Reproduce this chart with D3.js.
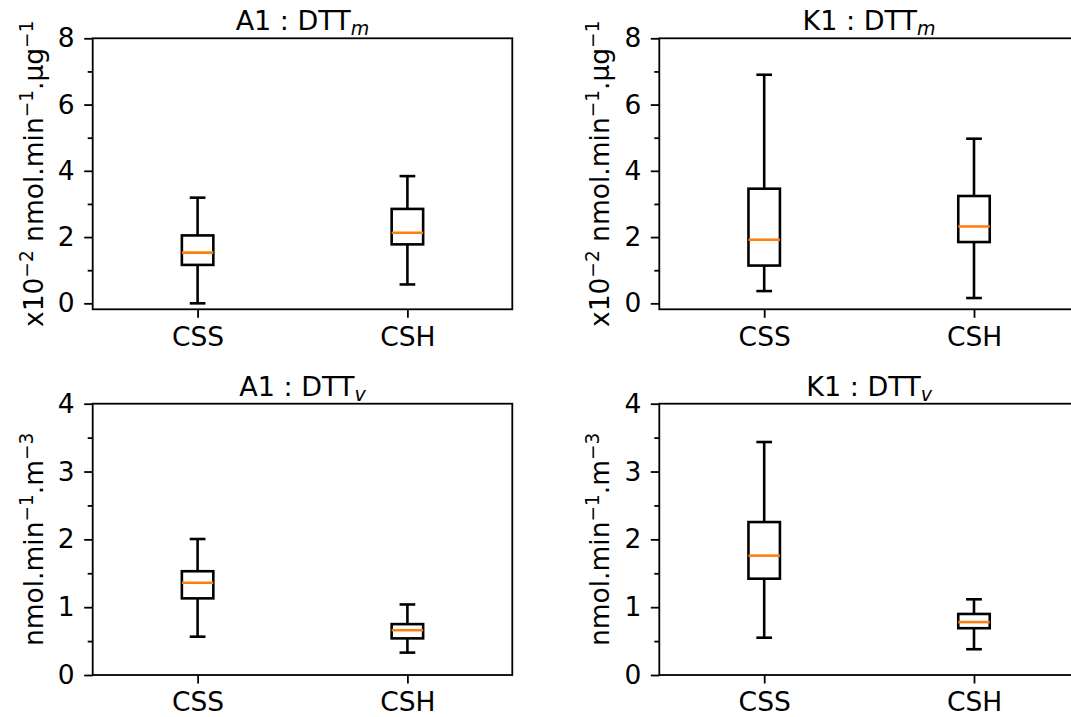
<!DOCTYPE html>
<html><head><meta charset="utf-8">
<script src="https://cdn.jsdelivr.net/npm/d3@7"></script>
<style>
body{margin:0;background:#fff}
svg{display:block}
text{font-family:"DejaVu Sans",sans-serif;fill:#000}
</style>
</head><body>
<svg id="c" width="1071" height="717"></svg>
<script>
// ---------- data ----------
const categories = ["CSS", "CSH"];
// box stats: [lower whisker, Q1, median, Q3, upper whisker]
const a1DttmCSS = [0.00, 1.16, 1.53, 2.05, 3.19];
const a1DttmCSH = [0.57, 1.78, 2.13, 2.85, 3.84];
const k1DttmCSS = [0.37, 1.14, 1.92, 3.46, 6.90];
const k1DttmCSH = [0.16, 1.85, 2.32, 3.24, 4.97];
const a1DttvCSS = [0.565, 1.13, 1.36, 1.53, 2.005];
const a1DttvCSH = [0.33, 0.54, 0.66, 0.75, 1.04];
const k1DttvCSS = [0.55, 1.42, 1.76, 2.255, 3.435];
const k1DttvCSH = [0.38, 0.69, 0.78, 0.90, 1.116];
const titleMain = ["A1 : DTT", "K1 : DTT", "A1 : DTT", "K1 : DTT"];
const titleSub = ["m", "m", "v", "v"];
const massTicks = [0, 2, 4, 6, 8];
const massMinor = [1, 3, 5, 7];
const volTicks = [0, 1, 2, 3, 4];
const volMinor = [0.5, 1.5, 2.5, 3.5];
const massDomain = [-0.18, 8];
const volDomain = [0, 4];

// ---------- layout ----------
const svg = d3.select("#c");
const cols = [[92.7, 512.3], [659.3, 1078.9]];
const rows = [[38.3, 309.3], [403.7, 675]];
const boxW = 0.15, capW = 0.075;
const LW = 2.6, SPW = 1.8;
const FS = 26.5;

const panels = [
  {c:0, r:0, data:[a1DttmCSS, a1DttmCSH], ticks:massTicks, minor:massMinor, dom:massDomain, label:"mass", t:0},
  {c:1, r:0, data:[k1DttmCSS, k1DttmCSH], ticks:massTicks, minor:massMinor, dom:massDomain, label:"mass", t:1},
  {c:0, r:1, data:[a1DttvCSS, a1DttvCSH], ticks:volTicks, minor:volMinor, dom:volDomain, label:"vol", t:2},
  {c:1, r:1, data:[k1DttvCSS, k1DttvCSH], ticks:volTicks, minor:volMinor, dom:volDomain, label:"vol", t:3}
];

panels.forEach(p => {
  const [x0, x1] = cols[p.c], [y0, y1] = rows[p.r];
  const x = d3.scaleLinear().domain([0.5, 2.5]).range([x0, x1]);
  const y = d3.scaleLinear().domain(p.dom).range([y1, y0]);
  const g = svg.append("g");

  // boxes
  p.data.forEach((s, i) => {
    const pos = i + 1;
    const [lo, q1, med, q3, hi] = s;
    const bg = g.append("g").attr("stroke", "#000").attr("stroke-width", LW).attr("fill", "none");
    bg.append("line").attr("x1", x(pos)).attr("x2", x(pos)).attr("y1", y(q1)).attr("y2", y(lo));
    bg.append("line").attr("x1", x(pos)).attr("x2", x(pos)).attr("y1", y(q3)).attr("y2", y(hi));
    bg.append("line").attr("x1", x(pos - capW/2)).attr("x2", x(pos + capW/2)).attr("y1", y(lo)).attr("y2", y(lo));
    bg.append("line").attr("x1", x(pos - capW/2)).attr("x2", x(pos + capW/2)).attr("y1", y(hi)).attr("y2", y(hi));
    bg.append("rect").attr("x", x(pos - boxW/2)).attr("y", y(q3))
      .attr("width", x(pos + boxW/2) - x(pos - boxW/2)).attr("height", y(q1) - y(q3))
      .attr("stroke-linejoin", "miter");
    g.append("line").attr("x1", x(pos - boxW/2)).attr("x2", x(pos + boxW/2))
      .attr("y1", y(med)).attr("y2", y(med)).attr("stroke", "#ff7f0e").attr("stroke-width", LW);
  });

  // y axis
  const ya = g.append("g").attr("transform", `translate(${x0},0)`)
    .call(d3.axisLeft(y).tickValues(p.ticks).tickFormat(d3.format("d")).tickSize(8.5).tickPadding(9.5));
  ya.select(".domain").remove();
  ya.selectAll("line").attr("stroke-width", SPW);
  ya.selectAll("text").attr("font-size", FS).attr("font-family", "DejaVu Sans");
  const ym = g.append("g").attr("transform", `translate(${x0},0)`)
    .call(d3.axisLeft(y).tickValues(p.minor).tickFormat("").tickSize(5));
  ym.select(".domain").remove();
  ym.selectAll("line").attr("stroke-width", SPW);

  // x axis
  const xa = g.append("g").attr("transform", `translate(0,${y1})`)
    .call(d3.axisBottom(x).tickValues([1, 2]).tickFormat(d => categories[d - 1]).tickSize(8.5).tickPadding(9));
  xa.select(".domain").remove();
  xa.selectAll("line").attr("stroke-width", SPW);
  xa.selectAll("text").attr("font-size", FS).attr("font-family", "DejaVu Sans");

  // spines
  g.append("rect").attr("x", x0).attr("y", y0).attr("width", x1 - x0).attr("height", y1 - y0)
    .attr("fill", "none").attr("stroke", "#000").attr("stroke-width", SPW);

  // title
  const t = g.append("text").attr("x", (x0 + x1) / 2).attr("y", y0 - 8)
    .attr("text-anchor", "middle").attr("font-size", 27);
  t.append("tspan").text(titleMain[p.t]);
  t.append("tspan").attr("font-size", 19).attr("font-style", "italic").attr("dy", 5).text(titleSub[p.t]);

  // y label
  const lab = g.append("text")
    .attr("transform", `translate(${x0 - 50},${(y0 + y1) / 2}) rotate(-90)`)
    .attr("text-anchor", "middle").attr("font-size", FS);
  const sup = (s) => { lab.append("tspan").attr("font-size", FS * 0.7).attr("dy", -10).text(s); };
  const norm = (s) => { lab.append("tspan").attr("dy", 10).text(s); };
  if (p.label === "mass") {
    lab.append("tspan").text("x10");
    sup("\u22122"); norm(" nmol.min"); sup("\u22121"); norm(".\u00b5g"); sup("\u22121");
  } else {
    lab.append("tspan").text("nmol.min");
    sup("\u22121"); norm(".m"); sup("\u22123");
  }
});
</script>
</body></html>
